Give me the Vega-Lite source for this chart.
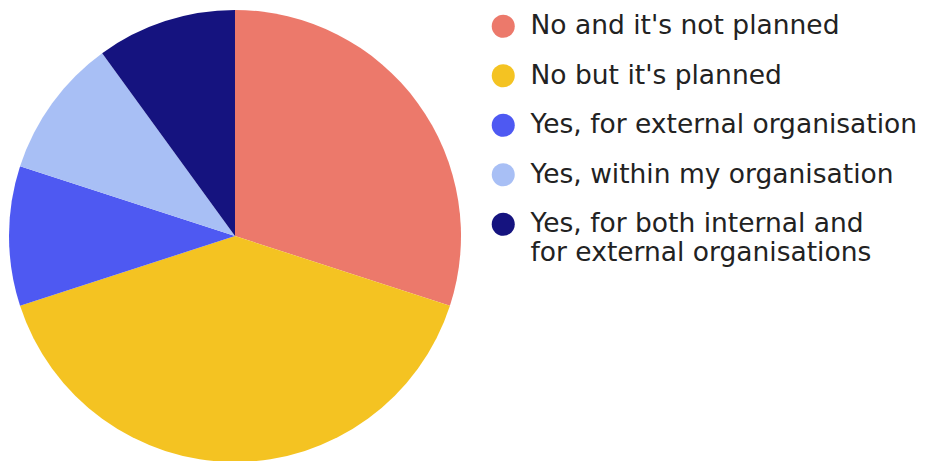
{
  "$schema": "https://vega.github.io/schema/vega-lite/v6.json",
  "width": 928,
  "height": 461,
  "autosize": {"type": "none"},
  "padding": 0,
  "background": "white",
  "data": {
    "values": [
      {"answer": "No and it's not planned", "value": 30, "order": 1},
      {"answer": "No but it's planned", "value": 40, "order": 2},
      {"answer": "Yes, for external organisation", "value": 10, "order": 3},
      {"answer": "Yes, within my organisation", "value": 10, "order": 4},
      {"answer": "Yes, for both internal and for external organisations", "value": 10, "order": 5}
    ]
  },
  "mark": {"type": "arc", "x": 235, "y": 236, "radius": 226},
  "encoding": {
    "theta": {"field": "value", "type": "quantitative", "stack": true},
    "order": {"field": "order", "type": "quantitative"},
    "color": {
      "field": "answer",
      "type": "nominal",
      "scale": {
        "domain": ["No and it's not planned", "No but it's planned", "Yes, for external organisation", "Yes, within my organisation", "Yes, for both internal and for external organisations"],
        "range": ["#EC796B", "#F4C322", "#4E59F2", "#A8BFF5", "#15137F"]
      },
      "legend": {
        "title": null,
        "orient": "none",
        "legendX": 490,
        "legendY": 13,
        "symbolType": "circle",
        "symbolSize": 529,
        "symbolStrokeWidth": 0,
        "labelFontSize": 26.5,
        "labelFont": "DejaVu Sans",
        "labelColor": "#222222",
        "labelLimit": 0,
        "labelOffset": 14,
        "rowPadding": 22.5,
        "labelExpr": "datum.label == 'Yes, for both internal and for external organisations' ? ['Yes, for both internal and', 'for external organisations'] : datum.label"
      }
    }
  }
}
